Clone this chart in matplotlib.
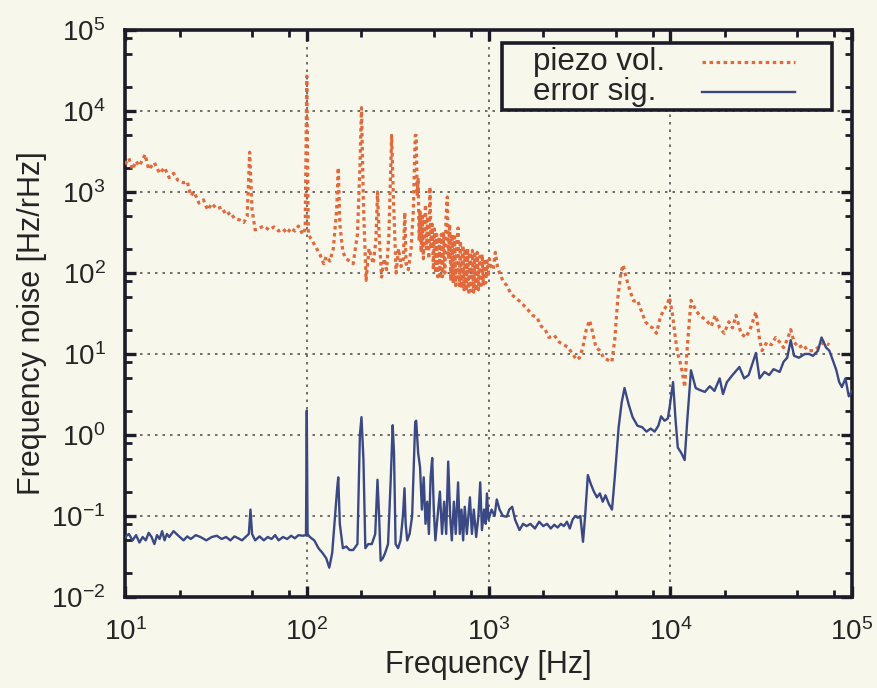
import numpy as np
import matplotlib
matplotlib.use("Agg")
import matplotlib.pyplot as plt
from matplotlib.ticker import FixedLocator, FuncFormatter, NullFormatter
from matplotlib.patches import Rectangle

plt.rcParams['font.family'] = ['Liberation Sans', 'DejaVu Sans']

# ---- data ----
piezo_freq = [10, 10.5, 11, 11.5, 12, 12.9, 13.5, 14.5, 15.5, 16.5, 17.5, 18.5, 19.5, 21, 22, 23, 24,
              25.5, 27, 28.5, 30, 32, 34, 36, 38, 40, 43, 45, 47, 48.5, 50, 52, 55, 58, 62, 66, 70,
              74, 78, 82, 86, 90, 95, 98, 100, 102, 107, 112, 118, 124, 128, 134, 140, 146, 149,
              152, 158, 165, 172, 180, 190, 196, 200, 205, 212, 220, 232, 240, 245, 250, 258, 266,
              275, 283, 293, 300, 310, 320, 330, 340, 346, 352, 362, 375, 386, 395,
              400, 405, 410, 415, 420, 426, 432, 438, 444, 450, 456, 462, 469, 476, 483, 490, 497,
              504, 511, 518, 526, 534, 542, 550, 558, 566, 575, 584, 593, 602, 611, 620, 630, 640,
              650, 660, 670, 680, 690, 700, 711, 722, 733, 744, 755, 767, 779, 791, 803, 815, 828,
              841, 854, 867, 880, 894, 908, 922, 936, 950, 965, 980, 995, 1010,
              1030, 1060, 1090, 1120, 1150, 1200, 1260, 1330, 1400, 1480, 1560,
              1650, 1750, 1850, 1950, 2050, 2150, 2300, 2450, 2600, 2750, 2900, 3050, 3170, 3300,
              3450, 3600, 3750, 3900, 4100, 4300, 4500, 4770, 4950, 5150, 5350, 5500, 5700, 6000,
              6300, 6600, 6900, 7300, 7700, 8000, 8400, 8800, 9200, 9600, 9900, 10300, 10700, 11000,
              11500, 12000, 12400, 13000, 13800, 14500, 15800, 16800, 17700, 18700, 19800, 21000,
              22000, 23000, 24500, 26000, 27500, 29600, 31000, 32000, 34000, 36000, 38000, 40000,
              42000, 44000, 46000, 48000, 51000, 54000, 57000, 61000, 65000, 70000, 75000]
piezo_val = [2200, 2600, 1900, 2400, 2100, 2900, 1900, 2300, 1700, 2000, 1500, 1700, 1400, 1300, 1350,
             900, 1000, 730, 800, 600, 720, 620, 650, 520, 560, 470, 450, 420, 500, 3100, 600, 340,
             360, 380, 340, 370, 330, 350, 310, 360, 330, 380, 300, 350, 27000, 300, 250, 210, 170,
             130, 160, 140, 200, 600, 2000, 400, 180, 150, 140, 130, 300, 2000, 11000, 700, 81, 200,
             130, 250, 1000, 300, 89, 150, 110, 300, 5000, 800, 100, 200, 120, 150, 560, 130, 110,
             200, 600, 5000,
             5000, 900, 1500, 250, 600, 180, 500, 150, 400, 700, 200, 500, 150, 1150, 200, 400, 110,
             350, 100, 300, 90, 280, 85, 300, 90, 320, 100, 500, 870, 150, 400, 80, 300, 75,
             280, 70, 250, 360, 70, 250, 65, 220, 62, 200, 60, 200, 58, 180, 60, 190, 58,
             170, 60, 180, 62, 160, 65, 170, 70, 150, 75, 140, 90, 150,
             120, 110, 180, 120, 100, 80, 70, 55, 50, 45, 40,
             35, 30, 28, 22, 20, 16, 17, 14, 13, 12, 10, 8.5, 9, 12, 20, 26, 18, 12, 11, 9, 8.5,
             8, 15, 50, 100, 126, 90, 60, 45, 46, 35, 25, 22, 21, 18, 28, 35, 40, 50, 30, 15, 10,
             7, 3.9, 12, 46, 35, 30, 26, 22, 30, 21, 18, 25, 21, 30, 18, 16, 20, 33, 15, 11, 14, 13,
             16, 14, 12, 15, 20, 14, 12, 13, 11, 11, 12, 14, 13]

error_freq = [10, 10.5, 11, 11.5, 12, 12.5, 13, 13.5, 14, 14.5, 15, 15.5, 16, 16.5, 17, 17.5, 18.5,
              19.5, 21, 22, 23, 24.5, 26, 28, 30, 32, 34, 36, 38, 40, 42, 44, 46, 48, 49, 50, 52,
              55, 58, 61, 64, 67, 70, 74, 78, 82, 86, 90, 95, 99, 100, 101, 104, 110, 116, 122,
              128, 133, 138, 143, 147, 149, 152, 158, 165, 172, 180, 190, 196, 200, 205, 210, 218,
              228, 238, 245, 250, 255, 262, 270, 280, 290, 297, 302, 308, 318, 328, 338, 345, 350,
              357, 368, 380, 390, 395, 400, 410, 420, 430, 440, 450, 460, 470, 480, 490, 500, 510,
              525, 540, 555, 570, 585, 600, 615, 628, 645, 660, 680, 695, 710, 725, 740, 760, 790,
              810, 830, 855, 880, 900, 920, 945, 965, 980, 1000, 1040, 1080, 1110, 1150, 1200,
              1260, 1300, 1350, 1400, 1480, 1550, 1620, 1700, 1800, 1900, 2000, 2100, 2200, 2300,
              2400, 2500, 2600, 2700, 2800, 2900, 3000, 3100, 3200, 3310, 3400, 3520, 3650, 3800,
              3950, 4100, 4250, 4400, 4600, 4780, 4950, 5200, 5400, 5600, 5900, 6200, 6600, 7000,
              7400, 7800, 8200, 8600, 8900, 9300, 9700, 10000, 10360, 10700, 11000, 11500, 12000,
              12400, 13000, 13800, 14500, 15500, 16500, 17500, 18700, 19500, 20500, 22000, 24000,
              25500, 27000, 29600, 31000, 33000, 35000, 37000, 40000, 42000, 44000, 46000, 48000,
              51000, 55000, 58000, 61000, 65000, 68000, 72000, 75000, 79000, 82000, 85000, 88000,
              92000, 96000, 100000]
error_val = [0.055, 0.06, 0.05, 0.058, 0.047, 0.055, 0.05, 0.062, 0.055, 0.045, 0.058, 0.052, 0.065,
             0.05, 0.06, 0.055, 0.065, 0.058, 0.05, 0.056, 0.052, 0.058, 0.055, 0.05, 0.055, 0.057,
             0.052, 0.055, 0.05, 0.056, 0.053, 0.05, 0.055, 0.06, 0.12, 0.06, 0.05, 0.056, 0.05,
             0.055, 0.052, 0.058, 0.05, 0.055, 0.052, 0.057, 0.053, 0.058, 0.057, 0.058, 2.0, 0.06,
             0.055, 0.05, 0.04, 0.035, 0.03, 0.023, 0.035, 0.1, 0.22, 0.3, 0.08, 0.04, 0.042, 0.038,
             0.038, 0.045, 1.0, 1.66, 0.5, 0.04, 0.045, 0.045, 0.06, 0.28, 0.1, 0.028, 0.03, 0.035,
             0.045, 0.3, 1.32, 0.6, 0.045, 0.04, 0.05, 0.1, 0.22, 0.08, 0.05, 0.06, 0.1, 0.6, 1.45,
             1.5, 0.6, 0.4, 0.12, 0.3, 0.08, 0.15, 0.06, 0.3, 0.52, 0.12, 0.05, 0.1, 0.2, 0.06, 0.15,
             0.06, 0.47, 0.1, 0.05, 0.15, 0.06, 0.26, 0.06, 0.12, 0.05, 0.13, 0.06, 0.17, 0.06, 0.12,
             0.055, 0.1, 0.26, 0.067, 0.12, 0.08, 0.19, 0.09, 0.12, 0.1, 0.16, 0.12, 0.1, 0.098,
             0.12, 0.13, 0.09, 0.067, 0.08, 0.075, 0.08, 0.07, 0.085, 0.075, 0.08, 0.07, 0.078,
             0.072, 0.08, 0.075, 0.085, 0.07, 0.09, 0.1, 0.095, 0.1, 0.048, 0.1, 0.32, 0.25, 0.2,
             0.17, 0.19, 0.15, 0.18, 0.14, 0.12, 0.3, 1.25, 2.5, 3.8, 2.4, 1.67, 1.3, 1.25, 1.1, 1.2,
             1.1, 1.3, 1.7, 1.5, 1.6, 2.5, 4.5, 1.5, 0.7, 0.6, 0.49, 1.5, 6.3, 3.8, 3.6, 3.4, 4.0,
             3.5, 5, 3.2, 4.5, 5.5, 6.9, 5, 5.5, 10.3, 5, 6, 5.5, 6.5, 6, 8, 9, 14.8, 9.5, 9, 10, 10,
             9.5, 11, 16, 12, 11, 8, 6.3, 4.5, 3.9, 5, 3, 3.5]

series_labels = ["piezo vol.", "error sig."]
xlabel = "Frequency [Hz]"
ylabel = "Frequency noise [Hz/rHz]"
x_decades = [1, 2, 3, 4, 5]
y_decades = [-2, -1, 0, 1, 2, 3, 4, 5]

# ---- style ----
bg = '#f8f7ec'
ink = '#1c1c28'
txt = '#252525'
orange = '#e2693c'
blue = '#3a4884'
piezo_style = dict(color=orange, lw=2.3, linestyle=(0, (1.1, 1.1)))
error_style = dict(color=blue, lw=1.7, linestyle='-')

fig = plt.figure(figsize=(8.78, 6.88), dpi=100, facecolor=bg)
ax = fig.add_axes([0.1424, 0.1323, 0.8280, 0.8241], facecolor=bg)

ax.plot(piezo_freq, piezo_val, zorder=3, **piezo_style)
ax.plot(error_freq, error_val, zorder=4, **error_style)

ax.set_xscale('log')
ax.set_yscale('log')
ax.set_xlim(10.0 ** x_decades[0], 10.0 ** x_decades[-1])
ax.set_ylim(10.0 ** y_decades[0], 10.0 ** y_decades[-1])

def minors(decs):
    return [m * 10.0 ** d for d in decs[:-1] for m in (2, 5, 8)]

fmt = FuncFormatter(lambda v, p: r'$\mathregular{10^{%d}}$' % int(round(np.log10(v))))
ax.xaxis.set_major_locator(FixedLocator([10.0 ** d for d in x_decades]))
ax.yaxis.set_major_locator(FixedLocator([10.0 ** d for d in y_decades]))
ax.xaxis.set_minor_locator(FixedLocator(minors(x_decades)))
ax.yaxis.set_minor_locator(FixedLocator(minors(y_decades)))
ax.xaxis.set_major_formatter(fmt)
ax.yaxis.set_major_formatter(fmt)
ax.xaxis.set_minor_formatter(NullFormatter())
ax.yaxis.set_minor_formatter(NullFormatter())

ax.tick_params(which='both', direction='in', top=True, right=True, colors=ink,
               labelcolor=txt)
ax.tick_params(which='major', length=8, width=2.4, labelsize=20)
ax.tick_params(axis='x', which='major', pad=15)
ax.tick_params(axis='y', which='major', pad=14)
ax.tick_params(which='minor', length=5, width=2.0)

for s in ax.spines.values():
    s.set_linewidth(2.6)
    s.set_color(ink)

ax.grid(True, which='major', color='#555555', lw=1.2, linestyle=(0, (1.5, 3)))
ax.set_axisbelow(True)

ax.set_xlabel(xlabel, fontsize=22, color=txt, labelpad=3)
ax.set_ylabel(ylabel, fontsize=22, color=txt)
ax.yaxis.set_label_coords(-0.108, 0.483)

# ---- legend drawn gnuplot-style: text left, sample line right ----
lx0, lx1, ly0, ly1 = 0.5186, 0.9725, 0.8589, 0.9771
ax.add_patch(Rectangle((lx0, ly0), lx1 - lx0, ly1 - ly0, transform=ax.transAxes,
                       facecolor=bg, edgecolor=ink, lw=2.6, zorder=6, clip_on=False))
rows_y = [0.9436, 0.8907]
for lab, yy, st in zip(series_labels, rows_y, [piezo_style, error_style]):
    ax.text(0.5612, yy, lab, transform=ax.transAxes, fontsize=22.5, color=txt,
            ha='left', va='center', zorder=7)
    ax.plot([0.7937, 0.9216], [yy, yy], transform=ax.transAxes, zorder=7, **st)

fig.savefig('out.png', dpi=100, facecolor=bg)
